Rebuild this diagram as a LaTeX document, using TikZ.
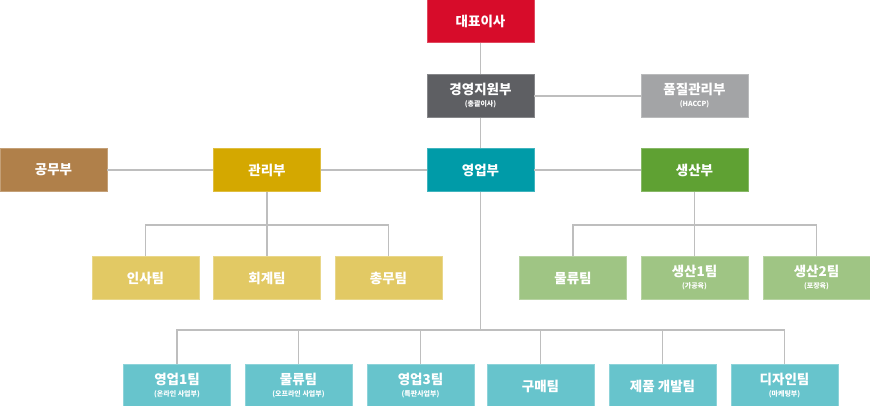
\documentclass[tikz,border=0pt]{standalone}
\usepackage{fontspec}
\setmainfont{Noto Sans CJK KR}
\usepackage{xcolor}
\usepackage{tikz}

\definecolor{ceoRed}{HTML}{D70C2A}
\definecolor{supGray}{HTML}{5E5F63}
\definecolor{qaGray}{HTML}{A3A4A6}
\definecolor{worksBrown}{HTML}{B0804A}
\definecolor{adminGold}{HTML}{D4A800}
\definecolor{salesTeal}{HTML}{009BA8}
\definecolor{prodGreen}{HTML}{5FA133}
\definecolor{adminLight}{HTML}{E2C964}
\definecolor{prodLight}{HTML}{9FC584}
\definecolor{salesLight}{HTML}{67C4CC}
\definecolor{lineGray}{HTML}{BEBEBE}

\newcommand{\subtxt}[1]{\\[-3pt]{\fontsize{7}{7}\selectfont #1}}

\tikzset{
  dept/.style={fill=#1, draw=#1!75!white, line width=0.6pt,
    minimum width=107, minimum height=43, inner sep=0pt,
    text=white, align=center, font=\bfseries\fontsize{13.5}{15}\selectfont},
  link/.style={draw=lineGray, line width=1.3pt}
}

\begin{document}
\begin{tikzpicture}[x=1pt, y=-1pt]
    \useasboundingbox (0,0) rectangle (870,405);

    % top
    \node[dept=ceoRed] (ceo) at (480.5,21) {대표이사};
    \node[dept=supGray] (sup) at (480.5,96) {경영지원부\subtxt{(총괄이사)}};
    \node[dept=qaGray] (qa) at (694.5,96) {품질관리부\subtxt{(HACCP)}};

    % departments
    \node[dept=worksBrown] (works) at (53.5,170) {공무부};
    \node[dept=adminGold] (admin) at (267,170) {관리부};
    \node[dept=salesTeal] (sales) at (480.5,170) {영업부};
    \node[dept=prodGreen] (prod) at (694.5,170) {생산부};

    % admin + production teams
    \node[dept=adminLight] (hr) at (145.5,278) {인사팀};
    \node[dept=adminLight] (acct) at (267,278) {회계팀};
    \node[dept=adminLight] (ga) at (388.5,278) {총무팀};
    \node[dept=prodLight] (logi) at (573,278) {물류팀};
    \node[dept=prodLight] (prodA) at (694.5,278) {생산1팀\subtxt{(가공육)}};
    \node[dept=prodLight] (prodB) at (816.5,278) {생산2팀\subtxt{(포장육)}};

    % sales teams
    \node[dept=salesLight] (salesA) at (177,386) {영업1팀\subtxt{(온라인 사업부)}};
    \node[dept=salesLight] (salesB) at (298.5,386) {물류팀\subtxt{(오프라인 사업부)}};
    \node[dept=salesLight] (salesC) at (420.5,386) {영업3팀\subtxt{(특판사업부)}};
    \node[dept=salesLight] (buy) at (540.5,386) {구매팀};
    \node[dept=salesLight] (dev) at (662.5,386) {제품 개발팀};
    \node[dept=salesLight] (design) at (784.5,386) {디자인팀\subtxt{(마케팅부)}};

    % bus levels
    \coordinate (teamBus) at (0,225);
    \coordinate (salesBus) at (0,330);

    % connectors
    \draw[link] (ceo) -- (sup);
    \draw[link] (sup) -- (sales);
    \draw[link] (sup) -- (qa);
    \draw[link] (works) -- (admin) -- (sales) -- (prod);

    \draw[link] (admin) -- (acct);
    \draw[link] (hr.north) |- (ga.north |- teamBus) -- (ga.north);
    \draw[link] (prod) -- (prodA);
    \draw[link] (logi.north) |- (prodB.north |- teamBus) -- (prodB.north);

    \draw[link] (sales.south) -- (sales |- salesBus);
    \draw[link] (salesA.north) |- (design.north |- salesBus) -- (design.north);
    \foreach \t in {salesB, salesC, buy, dev}
        \draw[link] (\t.north) -- (\t.north |- salesBus);
\end{tikzpicture}
\end{document}
